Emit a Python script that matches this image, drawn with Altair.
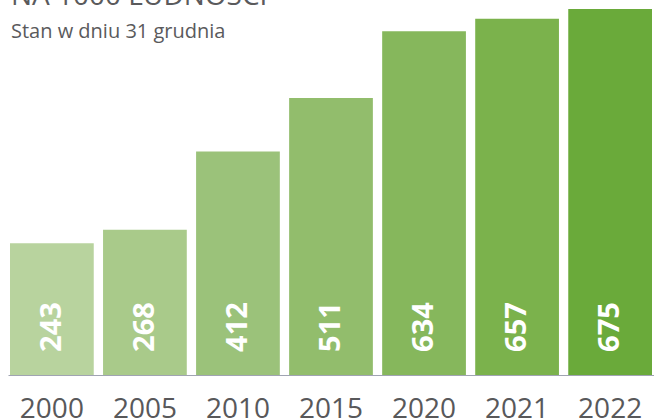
import altair as alt
import pandas as pd

years = ["2000", "2005", "2010", "2015", "2020", "2021", "2022"]
values = [243, 268, 412, 511, 634, 657, 675]
bar_colors = ["#b8d39e", "#a9ca8a", "#9bc27a", "#92bd6c", "#86b75c", "#7bb24c", "#6aaa3a"]
title_text = "NA 1000 LUDNOŚCI"
subtitle_text = "Stan w dniu 31 grudnia"

df = pd.DataFrame({"year": years, "value": values})

x = alt.X("year:N", sort=years,
          scale=alt.Scale(paddingInner=0.1, paddingOuter=0.0215),
          axis=alt.Axis(title=None, labelAngle=0, ticks=False, labelFontSize=28,
                        labelFont="Open Sans", labelColor="#58585a", labelPadding=20,
                        domainColor="#a0a4b2", domainWidth=1.2, labelBaseline="top"))
y = alt.Y("value:Q", scale=alt.Scale(domain=[0, 675], nice=False, zero=True), axis=None)

bars = alt.Chart(df).mark_bar().encode(
    x=x, y=y,
    color=alt.Color("year:N", scale=alt.Scale(domain=years, range=bar_colors), legend=None),
)

labels = alt.Chart(df).mark_text(
    angle=270, align="center", baseline="middle", dx=48, font="Open Sans",
    fontWeight="bold", fontSize=29, color="white"
).encode(x=alt.X("year:N", sort=years), y=alt.datum(0), text="value:Q")

title = alt.Chart(pd.DataFrame({"t": [title_text]})).mark_text(
    align="left", baseline="alphabetic", font="Open Sans", fontSize=28, color="#5a5a5c"
).encode(text="t:N", x=alt.value(3), y=alt.value(-4))

subtitle = alt.Chart(pd.DataFrame({"t": [subtitle_text]})).mark_text(
    align="left", baseline="alphabetic", font="Open Sans", fontSize=20, color="#5a5a5c"
).encode(text="t:N", x=alt.value(3), y=alt.value(29))

chart = alt.layer(bars, labels, title, subtitle).properties(
    width=646, height=366,
    autosize=alt.AutoSizeParams(type="none"),
    padding={"left": 8, "top": 9, "right": 0, "bottom": 43},
).configure_view(stroke=None)

chart.save("out.html", embed_options={"renderer": "svg", "actions": False})
